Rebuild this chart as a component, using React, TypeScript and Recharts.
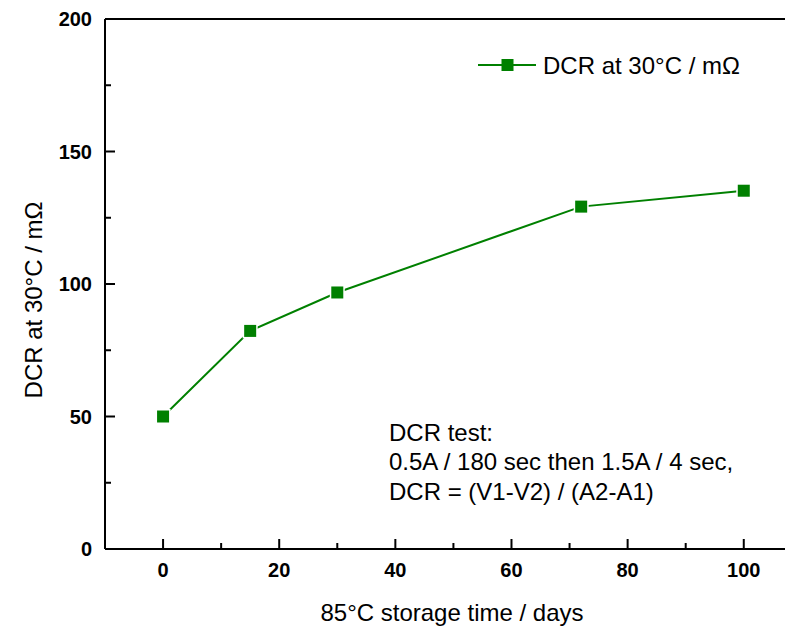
import { LineChart, Line, XAxis, YAxis, ReferenceLine } from 'recharts';

const days = [0, 15, 30, 72, 100];
const dcrValues = [50, 82.3, 96.8, 129.2, 135.2];
const xTicks = [0, 10, 20, 30, 40, 50, 60, 70, 80, 90, 100];
const yTicks = [0, 25, 50, 75, 100, 125, 150, 175, 200];
const seriesName = 'DCR at 30°C / mΩ';
const xTitle = '85°C storage time / days';
const noteLines = ['DCR test:', '0.5A / 180 sec then 1.5A / 4 sec,', 'DCR = (V1-V2) / (A2-A1)'];

const data = days.map((d, i) => ({ day: d, dcr: dcrValues[i] }));

const FONT = '"Liberation Sans", Arial, sans-serif';
const GREEN = '#008000';

const XTick = (props: any) => {
  const { x, y, payload } = props;
  const major = payload.value % 20 === 0;
  return (
    <g>
      <line x1={x} x2={x} y1={y} y2={y - (major ? 10 : 6)} stroke="#000" strokeWidth={2} />
      {major && (
        <text x={x} y={y + 28} textAnchor="middle" fontFamily={FONT} fontWeight="bold" fontSize={20} fill="#000">
          {payload.value}
        </text>
      )}
    </g>
  );
};

const YTick = (props: any) => {
  const { x, y, payload } = props;
  const major = payload.value % 50 === 0;
  return (
    <g>
      <line x1={x} x2={x + (major ? 10 : 6)} y1={y} y2={y} stroke="#000" strokeWidth={2} />
      {major && (
        <text x={x - 13} y={y + 7} textAnchor="end" fontFamily={FONT} fontWeight="bold" fontSize={20} fill="#000">
          {payload.value}
        </text>
      )}
    </g>
  );
};

const SquareDot = (props: any) => {
  const { cx, cy } = props;
  if (cx == null || cy == null) return null;
  return (
    <g>
      <rect x={cx - 7.5} y={cy - 7.5} width={15} height={15} fill="#fff" />
      <rect x={cx - 6} y={cy - 6} width={12} height={12} fill={GREEN} />
    </g>
  );
};

export default function App() {
  return (
    <div style={{ position: 'absolute', left: 0, top: 0, width: 785, height: 626, background: '#fff' }}>
      <LineChart width={785} height={626} data={data} margin={{ top: 19, right: 0, left: 0, bottom: 0 }}>
        <XAxis
          dataKey="day"
          type="number"
          domain={[-10, 107.1]}
          allowDataOverflow
          ticks={xTicks}
          interval={0}
          height={77}
          tickSize={0}
          tickMargin={0}
          tickLine={false}
          tick={<XTick />}
          axisLine={{ stroke: '#000', strokeWidth: 2 }}
        />
        <YAxis
          type="number"
          domain={[0, 200]}
          ticks={yTicks}
          interval={0}
          width={105}
          tickSize={0}
          tickMargin={0}
          tickLine={false}
          tick={<YTick />}
          axisLine={{ stroke: '#000', strokeWidth: 2 }}
        />
        <ReferenceLine y={200} stroke="#000" strokeWidth={2} ifOverflow="visible" />
        <Line
          dataKey="dcr"
          name={seriesName}
          stroke={GREEN}
          strokeWidth={2}
          dot={<SquareDot />}
          activeDot={false}
          isAnimationActive={false}
        />
      </LineChart>
      <svg width={785} height={626} style={{ position: 'absolute', left: 0, top: 0, pointerEvents: 'none' }}>
        <text
          x={41.5}
          y={300}
          transform="rotate(-90, 41.5, 300)"
          textAnchor="middle"
          fontFamily={FONT}
          fontSize={24}
          fill="#000"
        >
          {seriesName}
        </text>
        <text x={452} y={621} textAnchor="middle" fontFamily={FONT} fontSize={24} fill="#000">
          {xTitle}
        </text>
        <line x1={478} x2={536} y1={65} y2={65} stroke={GREEN} strokeWidth={2} />
        <rect x={501.5} y={59} width={12} height={12} fill={GREEN} />
        <text x={543} y={73.5} fontFamily={FONT} fontSize={24} fill="#000">
          {seriesName}
        </text>
        {noteLines.map((line, i) => (
          <text key={i} x={389} y={441 + i * 29.3} fontFamily={FONT} fontSize={24} fill="#000">
            {line}
          </text>
        ))}
      </svg>
    </div>
  );
}
